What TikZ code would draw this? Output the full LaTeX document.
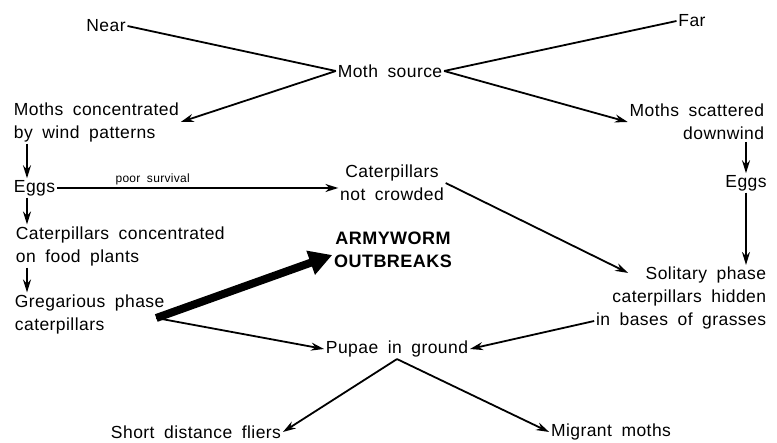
\documentclass[tikz,border=0pt]{standalone}
\usepackage{fontspec}
\setmainfont{Liberation Sans}[WordSpace=1.8, LetterSpace=2.5]
\usetikzlibrary{arrows.meta}

\tikzset{
    >={Stealth[length=13pt,width=8pt]},
    stage/.style={font=\fontsize{17.5}{23}\selectfont, inner sep=1pt},
    outbreak/.style={font=\fontsize{18}{23}\selectfont\bfseries, inner sep=1pt, align=center},
    note/.style={font=\fontsize{12}{14}\selectfont, inner sep=2pt},
    bigarrow/.style={-{Triangle[length=23pt,width=24pt]}, line width=8pt}
}

\begin{document}
\begin{tikzpicture}[x=1pt, y=-1pt, line width=1.8pt]
    \useasboundingbox (0,0) rectangle (777,443);

    % Moth source
    \node [stage] (near) at (106,26) {Near};
    \node [stage] (far) at (692,21) {Far};
    \node [stage] (source) at (390,71) {Moth source};

    % Near side
    \node [stage, anchor=west, align=left] (windconc) at (12,122) {Moths concentrated\\by wind patterns};
    \node [stage, anchor=west] (eggsnear) at (12,188) {Eggs};
    \node [stage, anchor=west, align=left] (foodconc) at (14,246) {Caterpillars concentrated\\on food plants};
    \node [stage, anchor=west, align=left] (gregarious) at (13,314) {Gregarious phase\\caterpillars};
    \node [stage, align=center] (notcrowded) at (392,183) {Caterpillars\\not crowded};
    \node [outbreak] (armyworm) at (393,250) {ARMYWORM\\OUTBREAKS};

    % Far side
    \node [stage, anchor=east, align=right] (scattered) at (766,122) {Moths scattered\\downwind};
    \node [stage] (eggsfar) at (746,183) {Eggs};
    \node [stage, anchor=east, align=right] (solitary) at (768,298) {Solitary phase\\caterpillars hidden\\in bases of grasses};

    % Pupae and moths
    \node [stage] (pupae) at (397,349) {Pupae in ground};
    \node [stage] (shortfly) at (196,432) {Short distance fliers};
    \node [stage] (migrant) at (611,432) {Migrant moths};

    \coordinate (fork) at ([xshift=-10pt,yshift=-4pt]gregarious.east);

    % Arrows
    \draw (near.east) -- (source.west);
    \draw (far.west) -- (source.east);
    \draw[->] (source.west) -- (windconc.east);
    \draw[->] (source.east) -- (scattered.west);
    \draw[->] ([xshift=15pt]windconc.south west) -- ([xshift=15pt]eggsnear.north west);
    \draw[->] (eggsnear.east) -- (eggsnear.east -| notcrowded.west)
        node [note, pos=0.34, above] {poor survival};
    \draw[->] ([xshift=15pt]eggsnear.south west) -- ([xshift=13pt]foodconc.north west);
    \draw[->] ([xshift=13pt]foodconc.south west) -- ([xshift=14pt]gregarious.north west);
    \draw[bigarrow] (fork) -- ([yshift=-5pt]armyworm.west);
    \draw[->] (fork) -- (pupae.west);
    \draw[->] (notcrowded.east) -- ([xshift=34pt,yshift=-8pt]solitary.north west);
    \draw[->] (eggsfar.north |- scattered.south) -- (eggsfar.north);
    \draw[->] (eggsfar.south) -- (eggsfar.south |- solitary.north);
    \draw[->] ([yshift=-23pt]solitary.west) -- (pupae.east);
    \draw[->] (pupae.south) -- (shortfly.east);
    \draw[->] (pupae.south) -- (migrant.west);
\end{tikzpicture}
\end{document}
